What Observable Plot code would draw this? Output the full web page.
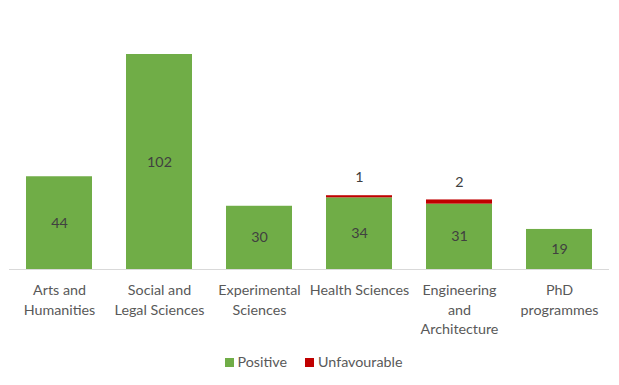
<!DOCTYPE html>
<html>
<head>
<meta charset="utf-8">
<script src="https://cdn.jsdelivr.net/npm/d3@7"></script>
<script src="https://cdn.jsdelivr.net/npm/@observablehq/plot@0.6"></script>
<style>
  html, body { margin: 0; padding: 0; background: #fff; }
  #chart { width: 619px; }
  .legend { display: flex; justify-content: center; gap: 18px; font-family: Lato, sans-serif; font-size: 14.3px; color: #595959; margin-top: 8px; margin-left: 8px; }
  .legend span.sw { display: inline-block; width: 9px; height: 9px; margin-right: 4px; vertical-align: 0px; }
</style>
</head>
<body>
<div id="chart"></div>
<script>
const categories = ["Arts and\nHumanities", "Social and\nLegal Sciences", "Experimental\nSciences", "Health Sciences", "Engineering\nand\nArchitecture", "PhD\nprogrammes"];
const positive = [44, 102, 30, 34, 31, 19];
const unfavourable = [0, 0, 0, 1, 2, 0];
const seriesNames = ["Positive", "Unfavourable"];
const seriesColors = ["#70AD47", "#C00000"];

const rows = [];
categories.forEach((c, i) => {
  rows.push({cat: c, type: seriesNames[0], value: positive[i]});
  rows.push({cat: c, type: seriesNames[1], value: unfavourable[i]});
});
const posLabels = categories.map((c, i) => ({cat: c, value: positive[i]}));
const unfLabels = categories.map((c, i) => ({cat: c, value: unfavourable[i], total: positive[i] + unfavourable[i]})).filter(d => d.value > 0);

const chart = Plot.plot({
  width: 619,
  height: 345,
  marginTop: 54,
  marginBottom: 76,
  marginLeft: 9,
  marginRight: 10,
  style: {fontFamily: "Lato, sans-serif", fontSize: "14px", color: "#595959", background: "#fff"},
  x: {domain: categories, paddingInner: 0.34, paddingOuter: 0.17, label: null},
  y: {domain: [0, 102], axis: null},
  color: {domain: seriesNames, range: seriesColors},
  marks: [
    Plot.barY(rows, {x: "cat", y: "value", fill: "type", order: seriesNames}),
    Plot.ruleY([0], {stroke: "#d9d9d9"}),
    Plot.axisX({tickSize: 0, tickPadding: 12, fontSize: 14.3, lineHeight: 1.35, fill: "#595959", textAnchor: "middle"}),
    Plot.text(posLabels, {x: "cat", y: d => d.value / 2, text: d => String(d.value), fill: "#404040", fontSize: 14.3}),
    Plot.text(unfLabels, {x: "cat", y: "total", text: d => String(d.value), fill: "#404040", fontSize: 14.3, dy: -18})
  ]
});
document.getElementById("chart").appendChild(chart);

const legend = document.createElement("div");
legend.className = "legend";
seriesNames.forEach((n, i) => {
  const item = document.createElement("div");
  item.innerHTML = `<span class="sw" style="background:${seriesColors[i]}"></span>${n}`;
  legend.appendChild(item);
});
document.body.appendChild(legend);
</script>
</body>
</html>
